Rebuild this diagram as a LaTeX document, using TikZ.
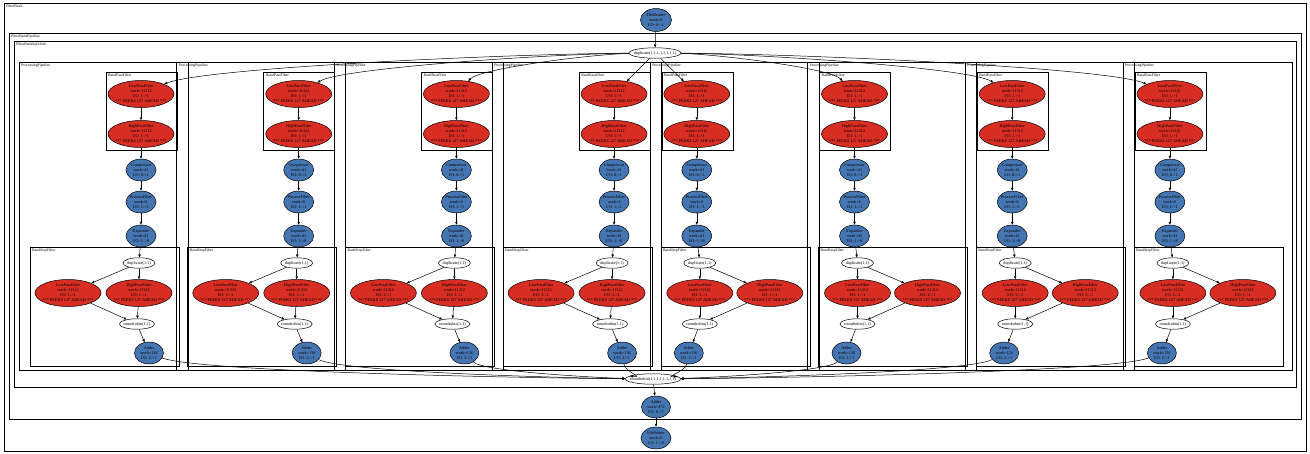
\documentclass[tikz,border=0pt]{standalone}
\usepackage{fontspec}
\setmainfont{Liberation Serif}
\usetikzlibrary{shapes.geometric,arrows.meta}
\definecolor{redc}{RGB}{215,45,35}
\definecolor{bluec}{RGB}{70,118,178}
\tikzset{
 nodefont/.style={font=\fontsize{4.2}{5}\selectfont},
 ellbase/.style={ellipse,draw,line width=0.5pt,inner sep=-40pt,align=center,nodefont},
 rednode/.style={ellbase,fill=redc,minimum width=66pt,minimum height=27pt},
 bluenode/.style={ellbase,fill=bluec,minimum width=30pt,minimum height=22pt},
 splitnode/.style={ellbase,fill=white,minimum height=10.5pt},
 clusterbox/.style={draw,line width=0.6pt},
 clabel/.style={anchor=north west,inner sep=0pt,font=\fontsize{3.8}{4}\selectfont},
 conn/.style={line width=0.5pt,-{Triangle[length=3pt,width=2.4pt]}},
}
\begin{document}
\begin{tikzpicture}[x=1pt,y=-1pt]
\useasboundingbox (0,0) rectangle (1310,453);
% outer clusters
\draw[clusterbox] (4,3) rectangle (1306,451);
\node[clabel] (lfb) at (6,5) {FilterBank};
\draw[clusterbox] (9,33) rectangle (1301,419);
\node[clabel] (lfbp) at (11,35) {FilterBankPipeline};
\draw[clusterbox] (14,41) rectangle (1296,387);
\node[clabel] (lfbs) at (16,43) {FilterBankSplitJoin};
% top and bottom nodes
\node[bluenode,minimum width=31pt,minimum height=23pt] (reader) at (656,20) {FileReader\\work=0\\I/O: 0->1};
\node[splitnode,minimum width=52pt] (dup) at (655,53) {duplicate(1,1,1,1,1,1,1,1)};
\node[splitnode,minimum width=55pt] (rr) at (653,379) {roundrobin(1,1,1,1,1,1,1,1)};
\node[bluenode,minimum width=29pt] (adder) at (656,407) {Adder\\work=472\\I/O: 8->1};
\node[bluenode] (writer) at (656,438) {FileWriter\\work=0\\I/O: 1->0};
\draw[conn] (reader) -- (dup);
\draw[conn] (rr) -- (adder);
\draw[conn] (adder) -- (writer);
% columns
\foreach \i in {1,...,8}{
  \pgfmathsetmacro{\L}{19+157.7*(\i-1)}
  \pgfmathsetmacro{\R}{\L+169}
  \ifnum\i<5
    \pgfmathsetmacro{\bp}{\L+87}
    \pgfmathsetmacro{\cx}{\L+122}
    \pgfmathsetmacro{\dx}{\L+120}
    \pgfmathsetmacro{\lx}{\L+49}
    \pgfmathsetmacro{\hx}{\L+120}
    \pgfmathsetmacro{\rx}{\L+118}
    \pgfmathsetmacro{\ax}{\L+130}
  \else
    \pgfmathsetmacro{\bp}{\L+12}
    \pgfmathsetmacro{\cx}{\L+47}
    \pgfmathsetmacro{\dx}{\L+50}
    \pgfmathsetmacro{\lx}{\L+50}
    \pgfmathsetmacro{\hx}{\L+120}
    \pgfmathsetmacro{\rx}{\L+50}
    \pgfmathsetmacro{\ax}{\L+39}
  \fi
  \pgfmathsetmacro{\bpr}{\bp+71}
  \draw[clusterbox] (\L,62) rectangle (\R,370);
  \node[clabel] (lpp\i) at (\L+2,64) {ProcessingPipeline};
  \draw[clusterbox] (\bp,72) rectangle (\bpr,150);
  \node[clabel] (lbp\i) at (\bp+2,74) {BandPassFilter};
  \draw[clusterbox] (\L+11,247) rectangle (\L+160,366);
  \node[clabel] (lbs\i) at (\L+13,249) {BandStopFilter};
  \node[rednode] (lpa\i) at (\cx,94) {LowPassFilter\\work=11312\\I/O: 1->1\\*** PEEKS 127 AHEAD ***};
  \node[rednode] (hpa\i) at (\cx,134) {HighPassFilter\\work=11312\\I/O: 1->1\\*** PEEKS 127 AHEAD ***};
  \node[bluenode] (comp\i) at (\cx,170) {Compressor\\work=41\\I/O: 8->1};
  \node[bluenode] (proc\i) at (\cx,202) {ProcessFilter\\work=6\\I/O: 1->1};
  \node[bluenode] (exp\i) at (\cx,236) {Expander\\work=41\\I/O: 1->8};
  \node[splitnode,minimum width=32pt] (dupb\i) at (\dx,263) {duplicate(1,1)};
  \node[rednode] (lpb\i) at (\lx,293) {LowPassFilter\\work=11312\\I/O: 1->1\\*** PEEKS 127 AHEAD ***};
  \node[rednode] (hpb\i) at (\hx,293) {HighPassFilter\\work=11312\\I/O: 1->1\\*** PEEKS 127 AHEAD ***};
  \node[splitnode,minimum width=35pt] (rrb\i) at (\rx,324) {roundrobin(1,1)};
  \node[bluenode,minimum width=29pt] (addb\i) at (\ax,353) {Adder\\work=136\\I/O: 2->1};
  \draw[conn] (lpa\i) -- (hpa\i);
  \draw[conn] (hpa\i) -- (comp\i);
  \draw[conn] (comp\i) -- (proc\i);
  \draw[conn] (proc\i) -- (exp\i);
  \draw[conn] (exp\i) -- (dupb\i);
  \draw[conn] (dupb\i) -- (lpb\i);
  \draw[conn] (dupb\i) -- (hpb\i);
  \draw[conn] (lpb\i) -- (rrb\i);
  \draw[conn] (hpb\i) -- (rrb\i);
  \draw[conn] (rrb\i) -- (addb\i);
  \ifnum\i=4
    \draw[conn] (dup) -- (lpa\i);
  \else\ifnum\i=5
    \draw[conn] (dup) -- (lpa\i);
  \else
    \pgfmathsetmacro{\ca}{655+(\cx-655)*0.3}
    \pgfmathsetmacro{\cb}{\cx+(655-\cx)*0.12}
    \draw[conn] (dup) .. controls (\ca,54) and (\cb,68) .. (lpa\i);
  \fi\fi
  \pgfmathsetmacro{\da}{\ax+(653-\ax)*0.1}
  \pgfmathsetmacro{\db}{653-(653-\ax)*0.25}
  \draw[conn] (addb\i) .. controls (\da,372) and (\db,378) .. (rr);
}
\end{tikzpicture}
\end{document}
